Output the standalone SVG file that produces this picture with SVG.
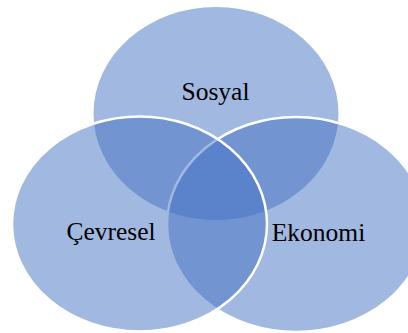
<svg xmlns="http://www.w3.org/2000/svg" width="408" height="333" viewBox="0 0 408 333">
<style>
.c{fill:#4472C4;fill-opacity:0.5}
.s{stroke:#FFFFFF;stroke-width:2.5}
.t{font-size:25.5px;fill:#000000;text-anchor:middle}
</style>
<rect width="408" height="333" fill="#FFFFFF"/>
<g id="sosyal">
<ellipse class="c" cx="216" cy="113.5" rx="122.5" ry="106.5"/>
</g>
<g id="ekonomi">
<ellipse class="c s" cx="296" cy="224.5" rx="129" ry="107.5"/>
</g>
<g id="cevresel">
<ellipse class="c s" cx="139.5" cy="224" rx="127.5" ry="107.5"/>
</g>
<g id="labels" font-family="'Liberation Serif', 'DejaVu Serif', serif">
<text class="t" x="215.5" y="100">Sosyal</text>
<text class="t" x="111" y="240">Çevresel</text>
<text class="t" x="318.5" y="240.5">Ekonomi</text>
</g>
</svg>
